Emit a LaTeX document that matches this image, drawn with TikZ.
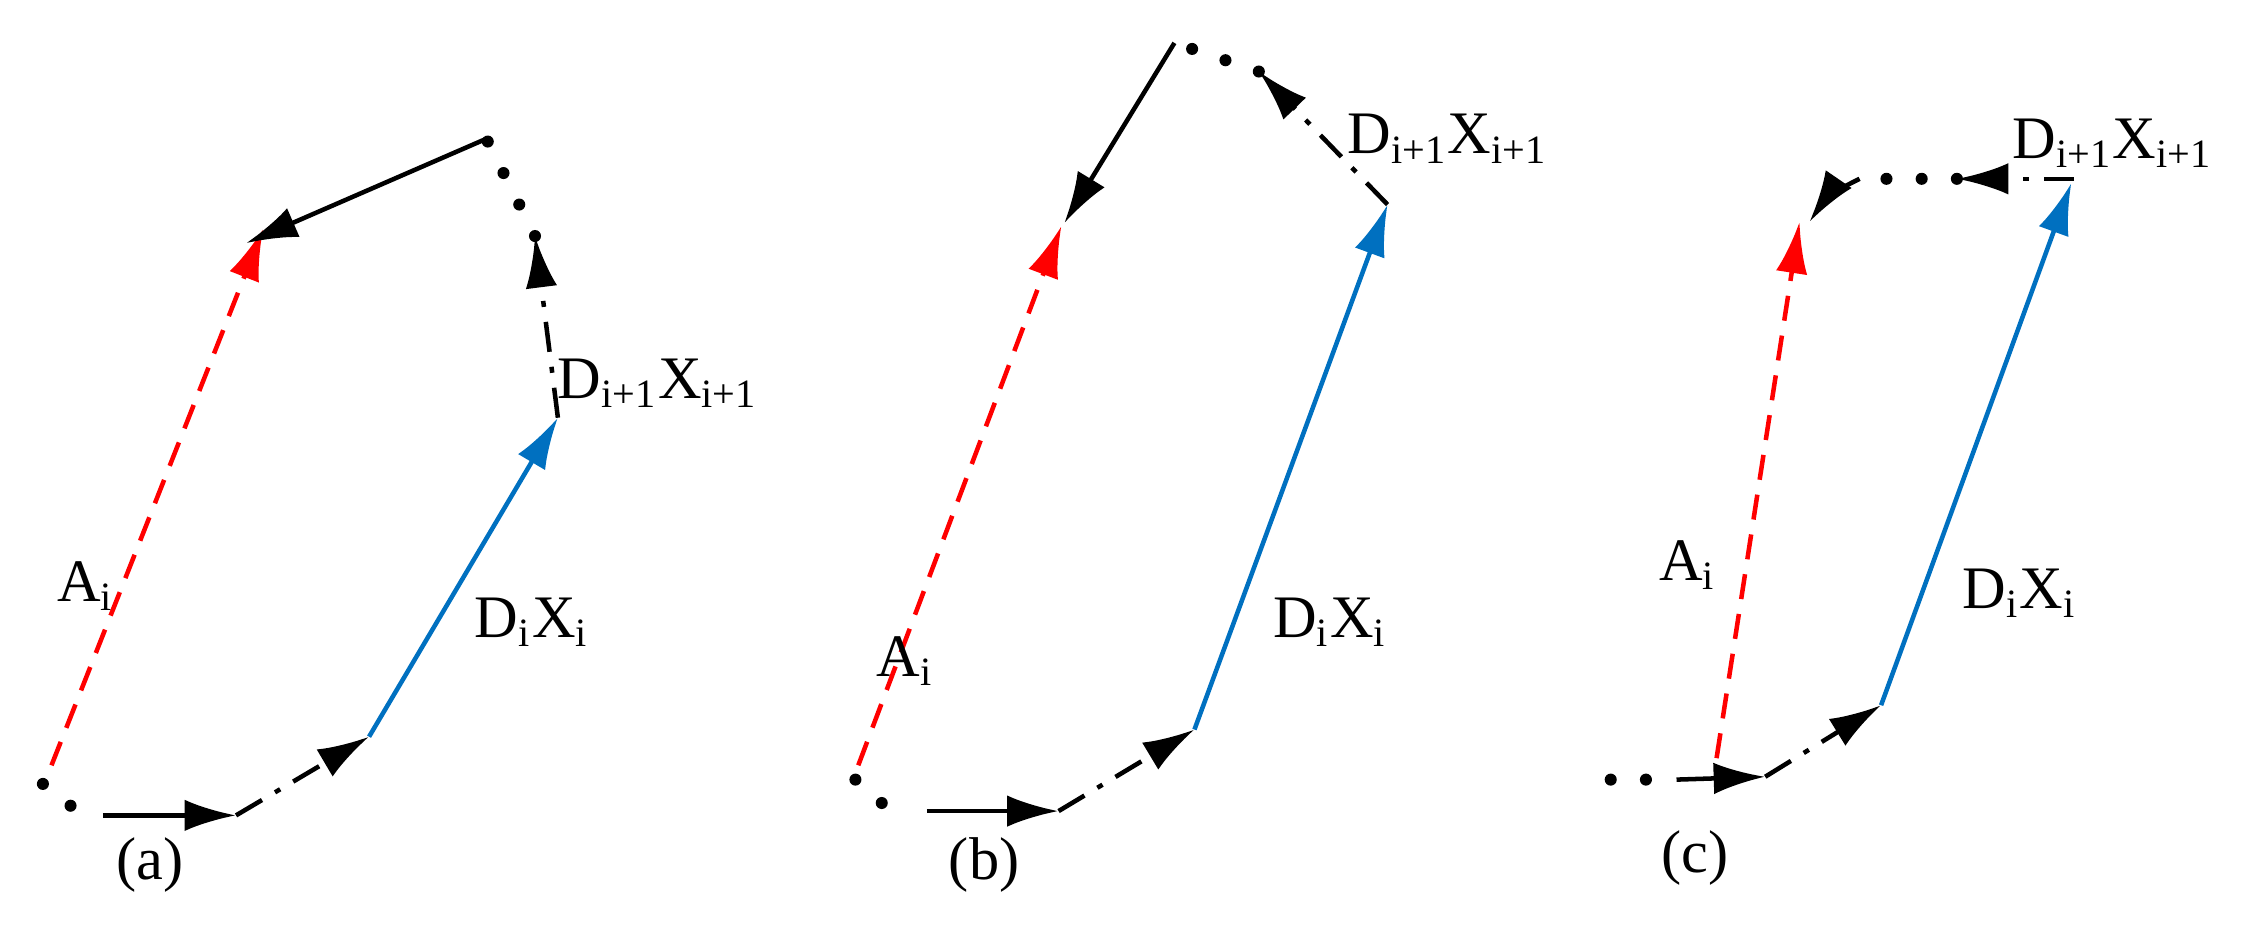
\documentclass[tikz,border=0pt]{standalone}
\usepackage{fontspec}
\setmainfont{Liberation Serif}
\usetikzlibrary{arrows.meta}
\definecolor{myblue}{RGB}{0,112,192}
\tikzset{
 ln/.style={line width=0.9pt},
 arr/.style={ln,-{Latex[length=3.6mm,width=2.2mm]}},
 dd/.style={dash pattern=on 6pt off 3pt on 1.2pt off 3pt},
 dots/.style={line width=2.4pt,line cap=round,dash pattern=on 0pt off 7pt},
 red dash/.style={arr,red,dash pattern=on 5pt off 3pt},
 lbl/.style={font=\fontsize{12}{14}\selectfont,inner sep=0pt}
}
\begin{document}
\begin{tikzpicture}[x=0.01cm,y=-0.01cm]
\useasboundingbox (0,0) rectangle (1568,648);
% panel a
\coordinate (a1) at (30,548); \coordinate (a2) at (68,578);
\coordinate (a3) at (72,570); \coordinate (a4) at (165,570);
\coordinate (a5) at (258,515); \coordinate (a6) at (390,292);
\coordinate (a7) at (374,165); \coordinate (a8) at (340,97);
\coordinate (a9) at (172,170); \coordinate (a0) at (36,535);
\coordinate (ar) at (184,160);
\draw[red dash] (a0) -- (ar);
\draw[dots] (a1) -- (a2);
\draw[arr] (a3) -- (a4);
\draw[arr,dd] (a4) -- (a5);
\draw[arr,myblue] (a5) -- (a6);
\draw[arr,dd] (a6) -- (a7);
\draw[dots] (a7) -- (a8);
\draw[arr] (a8) -- (a9);
\node[lbl] at (60,410) {A\textsubscript{i}};
\node[lbl] at (372,435) {D\textsubscript{i}X\textsubscript{i}};
\node[lbl] at (460,268) {D\textsubscript{i+1}X\textsubscript{i+1}};
\node[lbl] at (105,605) {(a)};
% panel b
\coordinate (b0) at (600,535); \coordinate (br) at (742,158);
\coordinate (b1) at (598,545); \coordinate (b2) at (634,577);
\coordinate (b3) at (648,567); \coordinate (b4) at (740,567);
\coordinate (b5) at (835,510); \coordinate (b6) at (970,143);
\coordinate (b7) at (880,50); \coordinate (b8) at (821,30);
\coordinate (b9) at (744,156);
\draw[red dash] (b0) -- (br);
\draw[dots] (b1) -- (b2);
\draw[arr] (b3) -- (b4);
\draw[arr,dd] (b4) -- (b5);
\draw[arr,myblue] (b5) -- (b6);
\draw[arr,dd] (b6) -- (b7);
\draw[dots] (b7) -- (b8);
\draw[arr] (b8) -- (b9);
\node[lbl] at (633,462) {A\textsubscript{i}};
\node[lbl] at (930,435) {D\textsubscript{i}X\textsubscript{i}};
\node[lbl] at (1012,97) {D\textsubscript{i+1}X\textsubscript{i+1}};
\node[lbl] at (688,605) {(b)};
% panel c
\coordinate (c0) at (1200,530); \coordinate (cr) at (1258,155);
\coordinate (c1) at (1126,545); \coordinate (c2) at (1172,545);
\coordinate (c4) at (1234,543);
\coordinate (c5) at (1315,493); \coordinate (c6) at (1448,128);
\coordinate (c7) at (1450,125); \coordinate (c8) at (1368,125);
\coordinate (c9) at (1300,125); \coordinate (c10) at (1265,155);
\draw[red dash] (c0) -- (cr);
\draw[dots] (c1) -- (c2);
\draw[arr] (c2) -- (c4);
\draw[arr,dd] (c4) -- (c5);
\draw[arr,myblue] (c5) -- (c6);
\draw[arr,dd] (c7) -- (c8);
\draw[dots] (c8) -- (c9);
\draw[arr,dd] (c9) to[bend right=15] (c10);
\node[lbl] at (1180,395) {A\textsubscript{i}};
\node[lbl] at (1412,415) {D\textsubscript{i}X\textsubscript{i}};
\node[lbl] at (1477,100) {D\textsubscript{i+1}X\textsubscript{i+1}};
\node[lbl] at (1185,600) {(c)};
\end{tikzpicture}
\end{document}
